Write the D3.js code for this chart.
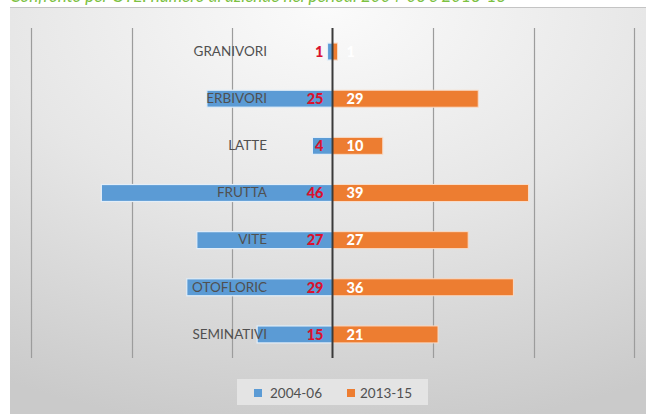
<!DOCTYPE html>
<html><head><meta charset="utf-8">
<script src="https://cdn.jsdelivr.net/npm/d3@7"></script>
<style>html,body{margin:0;padding:0;background:#fff;}svg{display:block;}</style>
</head><body>
<script>
const categories = ["GRANIVORI","ERBIVORI","LATTE","FRUTTA","VITE","OTOFLORIC","SEMINATIVI"];
const series2004 = [1,25,4,46,27,29,15];
const series2013 = [1,29,10,39,27,36,21];
const seriesNames = ["2004-06","2013-15"];
const gridTicks = [-60,-40,-20,0,20,40,60];
const titleText = "Confronto per OTE: numero di aziende nei periodi 2004-06 e 2013-15";

const W = 646, H = 414;
const svg = d3.select("body").append("svg").attr("width", W).attr("height", H);
const defs = svg.append("defs");
const g1 = defs.append("radialGradient").attr("id","bg").attr("cx","0.5").attr("cy","0").attr("r","1.05")
  .attr("fx","0.5").attr("fy","0");
g1.append("stop").attr("offset","0").attr("stop-color","#fbfbfb");
g1.append("stop").attr("offset","0.5").attr("stop-color","#e6e6e6");
g1.append("stop").attr("offset","1").attr("stop-color","#cacaca");

// title (cut off at the top, as in the source picture)
svg.append("text").attr("x",10).attr("y",2).attr("fill","#7cc142")
  .attr("font-family","Lato, sans-serif").attr("font-style","italic").attr("font-size",17)
  .text(titleText);

// panel
svg.append("rect").attr("x",10).attr("y",7).attr("width",W-10).attr("height",H-7).attr("fill","url(#bg)");
svg.append("line").attr("x1",10).attr("x2",W).attr("y1",7.5).attr("y2",7.5).attr("stroke","#c4c4c4");

const x = d3.scaleLinear().domain([-60,60]).range([31,634]);
const y = d3.scaleBand().domain(categories).range([28,358]).paddingInner(0.64).paddingOuter(0.32);

// grid
svg.append("g").selectAll("line").data(gridTicks.filter(t=>t!==0)).join("line")
  .attr("x1",d=>Math.round(x(d))+0.5).attr("x2",d=>Math.round(x(d))+0.5)
  .attr("y1",28).attr("y2",358).attr("stroke","#9c9c9c").attr("stroke-width",1.2);

const font = "Lato, 'Open Sans', sans-serif";

// bars
svg.append("g").selectAll("rect").data(categories).join("rect")
  .attr("x",(d,i)=>x(-series2004[i])).attr("width",(d,i)=>x(0)-x(-series2004[i]))
  .attr("y",d=>y(d)).attr("height",y.bandwidth())
  .attr("fill","#5b9bd5").attr("stroke","#e3eef8").attr("stroke-width",1.2);
svg.append("g").selectAll("rect").data(categories).join("rect")
  .attr("x",x(0)).attr("width",(d,i)=>x(series2013[i])-x(0))
  .attr("y",d=>y(d)).attr("height",y.bandwidth())
  .attr("fill","#ed7d31").attr("stroke","#f8dcc8").attr("stroke-width",1);

// category axis
const ax = svg.append("g").attr("transform","translate(267,0)")
  .call(d3.axisLeft(y).tickSize(0).tickPadding(0));
ax.select(".domain").remove();
ax.selectAll("text").attr("font-family",font).attr("font-size",13.5).attr("fill","#505050");

// zero line
svg.append("line").attr("x1",x(0)).attr("x2",x(0)).attr("y1",28).attr("y2",358)
  .attr("stroke","#3a3a3a").attr("stroke-width",2);

// value labels
svg.append("g").selectAll("text").data(categories).join("text")
  .attr("x",x(0)-9).attr("y",d=>y(d)+y.bandwidth()/2).attr("dy","0.36em")
  .attr("text-anchor","end").attr("font-family",font).attr("font-weight","900")
  .attr("font-size",14.5).attr("fill","#d9122e").text((d,i)=>series2004[i]);
svg.append("g").selectAll("text").data(categories).join("text")
  .attr("x",x(0)+14).attr("y",d=>y(d)+y.bandwidth()/2).attr("dy","0.36em")
  .attr("text-anchor","start").attr("font-family",font).attr("font-weight","900")
  .attr("font-size",14.5).attr("fill","#ffffff").text((d,i)=>series2013[i]);

// legend
const lg = svg.append("g");
lg.append("rect").attr("x",237).attr("y",379).attr("width",191).attr("height",26).attr("fill","#e4e4e4");
const legItems = [{name:seriesNames[0],c:"#5b9bd5",sx:254,tx:270},{name:seriesNames[1],c:"#ed7d31",sx:347,tx:360}];
legItems.forEach(it=>{
  lg.append("rect").attr("x",it.sx).attr("y",389).attr("width",8).attr("height",8).attr("fill",it.c);
  lg.append("text").attr("x",it.tx).attr("y",398).attr("font-family",font).attr("font-size",13.5)
    .attr("fill","#505050").text(it.name);
});
</script>
</body></html>
